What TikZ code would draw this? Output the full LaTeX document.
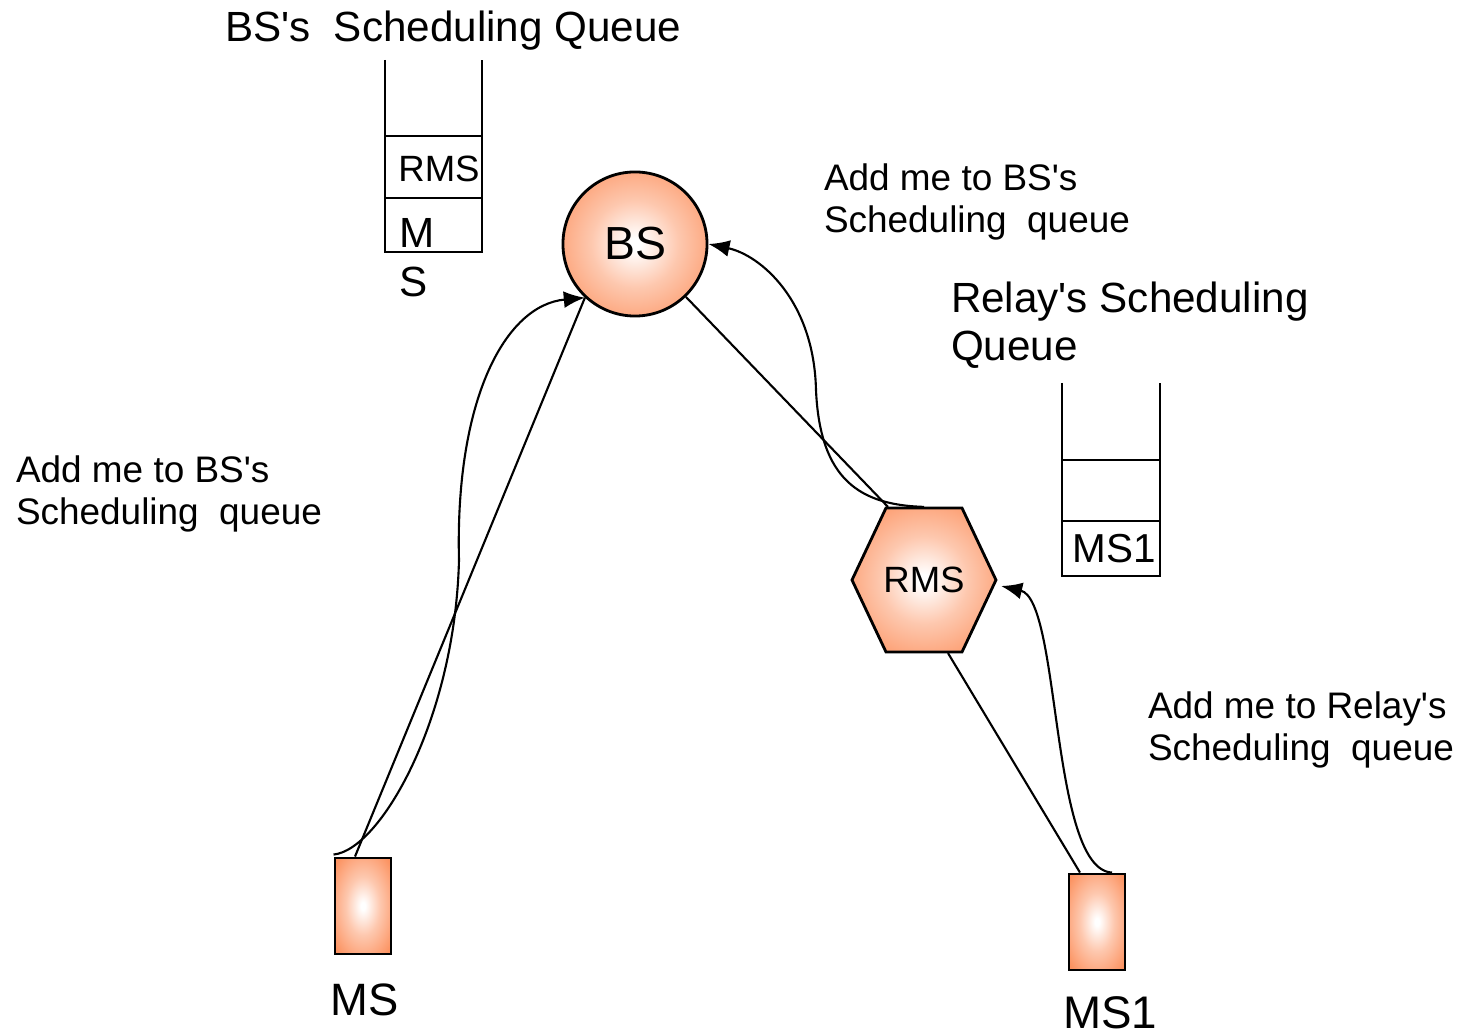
\documentclass[tikz,border=0pt]{standalone}
\usepackage{fontspec}
\setmainfont{Liberation Sans}
\usetikzlibrary{arrows.meta,calc}

\definecolor{nodeorange}{RGB}{252,146,96}
% white core fading out to orange at the rim
\pgfdeclareradialshading{glow}{\pgfpoint{0bp}{0bp}}{color(0bp)=(white); color(2bp)=(white); color(15bp)=(nodeorange!50!white); color(33bp)=(nodeorange); color(50bp)=(nodeorange)}

\begin{document}
\begin{tikzpicture}[x=0.01cm, y=-0.01cm, line width=0.6pt,
    station/.style={draw, shading=glow, line width=0.8pt},
    request/.style={-{Latex[length=6pt,width=4.8pt]}},
    note/.style={inner sep=0pt, align=left, anchor=west, font=\fontsize{10.5}{11.8}\selectfont},
    heading/.style={inner sep=0pt, align=left, anchor=west, font=\fontsize{12}{13.7}\selectfont}]
    \useasboundingbox (0,0) rectangle (1465,1034);

    % Nodes
    \node (bs) [station, circle, minimum size=1.44cm, inner sep=0pt, font=\fontsize{13.2}{15}\selectfont] at (635,244) {BS};
    \coordinate (rmsc) at (924,580);
    \path[station] (rmsc) +(-72,0) -- +(-38,-72) -- +(38,-72) -- +(72,0) -- +(38,72) -- +(-38,72) -- cycle;
    \node (rms) [minimum width=1.44cm, minimum height=1.44cm, inner sep=0pt, font=\fontsize{10.4}{12}\selectfont] at (rmsc) {RMS};
    \node (ms) [station, minimum width=0.56cm, minimum height=0.96cm, inner sep=0pt] at (363,906) {};
    \node (msone) [station, minimum width=0.56cm, minimum height=0.96cm, inner sep=0pt] at (1097,922) {};
    \node (mslabel) [font=\fontsize{12.9}{15}\selectfont] at (365,1000) {MS};
    \node (msonelabel) [font=\fontsize{13}{15}\selectfont] at (1110,1013) {MS1};

    % Links between stations
    \draw ($(ms.north)+(-8,0)$) -- (bs.227);
    \draw (bs) -- ($(rms.north)+(-36,0)$);
    \draw ($(rms.south)+(24,0)$) -- ($(msone.north)+(-17,0)$);

    % Requests to be queued
    \draw[request] ($(ms.north west)+(0,-2)$) .. controls (380,850) and (455,720) .. (459,560)
        .. controls (455,400) and (505,305) .. (bs.227);
    \draw[request] (rms.north) .. controls (860,505) and (820,480) .. (816,390)
        .. controls (814,300) and (760,255) .. (bs.east);
    \draw[request] ($(msone.north)+(15,0)$) .. controls +(-62,-3) and +(60,14) .. ($(rms.east)+(4,6)$);

    % BS's queue
    \draw (385,60) -- (385,252) -- (482,252) -- (482,60);
    \draw (385,136) -- (482,136);
    \draw (385,198) -- (482,198);
    \node (qrms) [font=\fontsize{10.4}{12}\selectfont] at (439,169) {RMS};
    \node (qm) [font=\fontsize{12}{14}\selectfont] at (417,233) {M};
    \node (qs) [font=\fontsize{12}{14}\selectfont] at (414,282) {S};

    % Relay's queue
    \draw (1062,383) -- (1062,576) -- (1160,576) -- (1160,383);
    \draw (1062,460) -- (1160,460);
    \draw (1062,521) -- (1160,521);
    \node (qmsone) [font=\fontsize{11.5}{13}\selectfont] at (1114,549) {MS1};

    % Texts
    \node (bsqueue) [heading] at (224,31) {BS\textquotesingle s~~Scheduling Queue};
    \node (relayqueue) [heading] at (950,325) {Relay\textquotesingle s Scheduling\\Queue};
    \node (rmsnote) [note] at (823,202) {Add me to BS\textquotesingle s\\Scheduling~~queue};
    \node (msnote) [note] at (15,494) {Add me to BS\textquotesingle s\\Scheduling~~queue};
    \node (msonenote) [note] at (1147,730) {Add me to Relay\textquotesingle s\\Scheduling~~queue};
\end{tikzpicture}
\end{document}
